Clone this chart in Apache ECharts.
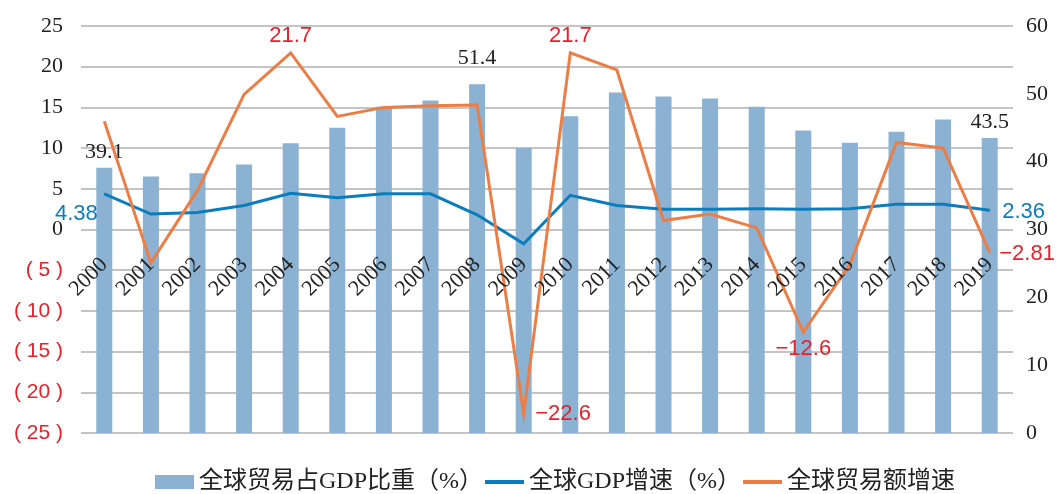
<!DOCTYPE html>
<html><head><meta charset="utf-8">
<script src="https://cdn.jsdelivr.net/npm/echarts@6/dist/echarts.min.js"></script>
<style>html,body{margin:0;padding:0;background:#fff}#c{width:1060px;height:494px}</style>
</head><body><div id="c"></div>
<script>
const years = ['2000','2001','2002','2003','2004','2005','2006','2007','2008','2009','2010','2011','2012','2013','2014','2015','2016','2017','2018','2019'];
const tradeShare = [39.1,37.8,38.3,39.6,42.7,45.0,48.1,49.0,51.4,42.0,46.7,50.2,49.6,49.3,48.1,44.6,42.8,44.4,46.2,43.5];
const gdpGrowth = [4.38,1.9,2.1,2.95,4.45,3.9,4.38,4.38,1.8,-1.75,4.2,2.95,2.5,2.5,2.55,2.5,2.55,3.1,3.1,2.36];
const tradeGrowth = [13.3,-4.1,4.8,16.6,21.7,13.9,15.0,15.2,15.3,-22.6,21.7,19.6,1.1,1.9,0.2,-12.6,-4.3,10.7,10.0,-2.81];
const leftTicks = {min:-25, max:25, interval:5};
const rightTicks = {min:0, max:60, interval:10};
const shareLabels = {0:{position:'top'}, 8:{position:'top', offset:[0,-10]}, 19:{position:'top'}};
const gdpLabels = {0:{position:'left', offset:[-1,20]}, 19:{position:'right', offset:[7,2]}};
const tradeLabels = {4:{position:'top'}, 9:{position:'right', offset:[6,0]}, 10:{position:'top'}, 15:{position:'bottom'}, 19:{position:'right', offset:[4,2]}};

const SERIF = '"Liberation Serif", "DejaVu Serif", serif';
const SANS = '"Liberation Sans", Arial, sans-serif';
const BLUE = '#0b7dbd', ORANGE = '#ec7d45', BAR = '#8bb2d2', RED = '#e8202a';
const GRID_TOP = 26, GRID_BOTTOM = 61, H = 494;

function fmtNum(v){ return v < 0 ? '\u2212' + Math.abs(v) : String(v); }

const barData = tradeShare.map((v,i)=>{
  const l = shareLabels[i];
  if (!l) return v;
  return {value:v, label:Object.assign({show:true, color:'#222', fontFamily:SERIF, fontSize:22}, l)};
});
function lineData(arr, labels, color, labelColor){
  return arr.map((v,i)=>{
    const l = labels[i];
    if (!l) return v;
    return {value:v, symbol:'circle', symbolSize:1, itemStyle:{color:color},
      label:Object.assign({show:true, color:labelColor, fontFamily:SANS, fontSize:22, formatter:(p)=>fmtNum(p.value)}, l)};
  });
}
const plotH = H - GRID_TOP - GRID_BOTTOM;
const zeroOffset = plotH * (0 - leftTicks.min) / (leftTicks.max - leftTicks.min);

const chart = echarts.init(document.getElementById('c'), null, {renderer:'canvas'});
chart.setOption({
  animation:false,
  grid:{left:81, right:47, top:GRID_TOP, bottom:GRID_BOTTOM, containLabel:false, outerBoundsMode:'none'},
  legend:{
    top:465, left:150, itemWidth:39, itemHeight:14, itemGap:2,
    textStyle:{fontFamily:SERIF + ', "Noto Sans CJK SC"', fontSize:24, color:'#222'},
    data:[
      {name:'全球贸易占GDP比重（%）', icon:'rect'},
      {name:'全球GDP增速（%）', icon:'path://M0,0H39V4H0Z'},
      {name:'全球贸易额增速', icon:'path://M0,0H39V4H0Z'}
    ]
  },
  xAxis:{
    type:'category', data:years, boundaryGap:true, position:'bottom', offset:-zeroOffset, z:10,
    axisLine:{show:false, onZero:false},
    axisTick:{show:false},
    axisLabel:{rotate:45, margin:32, color:'#222', fontFamily:SERIF, fontSize:22, interval:0}
  },
  yAxis:[
    {type:'value', min:leftTicks.min, max:leftTicks.max, interval:leftTicks.interval,
     axisLine:{show:false}, axisTick:{show:false},
     splitLine:{show:true, lineStyle:{color:'#b0b0b0', width:1.5}},
     axisLabel:{margin:18, formatter:(v)=> v<0 ? '{neg|( '+(-v)+' )}' : '{pos|'+v+'}',
       rich:{neg:{color:RED, fontFamily:SANS, fontSize:21}, pos:{color:'#222', fontFamily:SERIF, fontSize:22}}}},
    {type:'value', min:rightTicks.min, max:rightTicks.max, interval:rightTicks.interval,
     axisLine:{show:false}, axisTick:{show:false}, splitLine:{show:false},
     axisLabel:{margin:13, color:'#222', fontFamily:SERIF, fontSize:22}}
  ],
  series:[
    {name:'全球贸易占GDP比重（%）', type:'bar', yAxisIndex:1, data:barData, barWidth:16,
     itemStyle:{color:BAR}},
    {name:'全球GDP增速（%）', type:'line', yAxisIndex:0, symbol:'none', showSymbol:true,
     data:lineData(gdpGrowth, gdpLabels, BLUE, BLUE), lineStyle:{color:BLUE, width:3, join:'miter', miterLimit:10}, itemStyle:{color:BLUE}, z:3},
    {name:'全球贸易额增速', type:'line', yAxisIndex:0, symbol:'none', showSymbol:true,
     data:lineData(tradeGrowth, tradeLabels, ORANGE, RED), lineStyle:{color:ORANGE, width:3, join:'miter', miterLimit:10}, itemStyle:{color:ORANGE}, z:4}
  ]
});
</script></body></html>
